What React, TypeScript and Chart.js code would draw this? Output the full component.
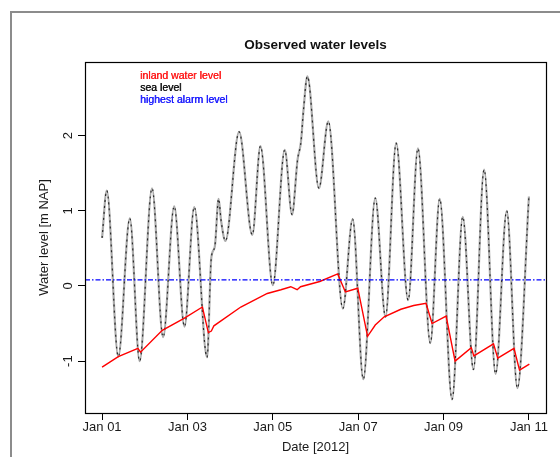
import React, { useEffect, useRef } from "react";
import { Chart, registerables } from "chart.js";
Chart.register(...registerables);

// Sea level (days after 2012-01-01 00:00, m NAP)
const seaDays = [0, 0.11, 0.38, 0.65, 0.88, 1.17, 1.43, 1.69, 1.93, 2.16, 2.46, 2.56, 2.64, 2.73, 2.79, 2.89, 3.21, 3.52, 3.71, 4.0, 4.28, 4.45, 4.58, 4.66, 4.72, 4.81, 5.08, 5.3, 5.64, 5.87, 6.12, 6.4, 6.64, 6.89, 7.17, 7.4, 7.69, 7.91, 8.2, 8.45, 8.7, 8.95, 9.22, 9.48, 9.73, 10.0];
const seaLevels = [0.64, 1.27, -0.94, 0.9, -1.0, 1.3, -0.68, 1.06, -0.54, 1.05, -0.95, 0.38, 0.52, 1.16, 0.86, 0.6, 2.05, 0.68, 1.86, 0.01, 1.81, 0.95, 1.68, 1.92, 2.35, 2.79, 1.3, 2.19, -0.3, 0.89, -1.24, 1.17, -0.41, 1.9, -0.19, 1.83, -0.76, 1.16, -1.51, 0.92, -1.11, 1.55, -1.17, 1.0, -1.36, 1.19];

// Inland water level
const inlandDays = [0, 0.38, 0.84, 0.9, 1.41, 1.92, 2.35, 2.49, 2.56, 2.62, 3.25, 3.87, 4.19, 4.42, 4.57, 4.65, 5.1, 5.52, 5.7, 5.99, 6.22, 6.4, 6.61, 7.0, 7.3, 7.59, 7.73, 8.06, 8.27, 8.65, 8.71, 9.17, 9.27, 9.65, 9.78, 10.01];
const inlandLevels = [-1.08, -0.94, -0.83, -0.88, -0.59, -0.43, -0.28, -0.62, -0.6, -0.53, -0.28, -0.1, -0.05, -0.01, -0.05, -0.01, 0.06, 0.16, -0.08, -0.03, -0.67, -0.52, -0.41, -0.31, -0.26, -0.23, -0.5, -0.4, -1.0, -0.82, -0.93, -0.77, -0.96, -0.83, -1.12, -1.04];

const alarmLevel = 0.08;

const xTickDays = [0, 2, 4, 6, 8, 10];
const xTickLabels = ["Jan 01", "Jan 03", "Jan 05", "Jan 07", "Jan 09", "Jan 11"];
const yTicks = [-1, 0, 1, 2];
const yTickLabels = ["-1", "0", "1", "2"];

const legendLabels = ["inland water level", "sea level", "highest alarm level"];
const legendColors = ["#ff1a1a", "#111111", "#1a1aff"];

const titleText = "Observed water levels";
const xTitle = "Date [2012]";
const yTitle = "Water level [m NAP]";

const FONT = "'Liberation Sans', Arial, sans-serif";

export default function App() {
  const ref = useRef<HTMLCanvasElement | null>(null);
  useEffect(() => {
    if (!ref.current) return;
    const seaPts = seaDays.map((d, i) => ({ x: d, y: seaLevels[i] }));
    const inlandPts = inlandDays.map((d, i) => ({ x: d, y: inlandLevels[i] }));
    const xMin = -0.4, xMax = 10.4;
    const alarmPts = [{ x: xMin, y: alarmLevel }, { x: xMax, y: alarmLevel }];

    const decor = {
      id: "decor",
      beforeDraw(chart: any) {
        const ctx = chart.ctx;
        ctx.save();
        ctx.fillStyle = "#ffffff";
        ctx.fillRect(0, 0, chart.width, chart.height);
        ctx.strokeStyle = "#8c8c8c";
        ctx.lineWidth = 2;
        ctx.strokeRect(11, 12, 700, 600);
        ctx.restore();
      },
      afterDraw(chart: any) {
        const ctx = chart.ctx;
        const a = chart.chartArea;
        const xs = chart.scales.x;
        const ys = chart.scales.y;
        ctx.save();
        ctx.strokeStyle = "#000";
        ctx.lineWidth = 1.2;
        ctx.strokeRect(Math.round(a.left) + 0.5, Math.round(a.top) + 0.5, Math.round(a.right - a.left), Math.round(a.bottom - a.top));
        const cx = (a.left + a.right) / 2;
        // title
        ctx.fillStyle = "#111";
        ctx.textAlign = "center";
        ctx.textBaseline = "middle";
        ctx.font = `bold 13.5px ${FONT}`;
        ctx.fillText(titleText, cx, 45);
        // x tick labels
        ctx.font = `13px ${FONT}`;
        ctx.fillStyle = "#1a1a1a";
        xTickDays.forEach((v, i) => {
          ctx.fillText(xTickLabels[i], xs.getPixelForValue(v), 427);
        });
        ctx.fillText(xTitle, cx, 447);
        // y tick labels rotated
        yTicks.forEach((v, i) => {
          ctx.save();
          ctx.translate(68, ys.getPixelForValue(v));
          ctx.rotate(-Math.PI / 2);
          ctx.fillText(yTickLabels[i], 0, 0);
          ctx.restore();
        });
        ctx.save();
        ctx.translate(44.5, (a.top + a.bottom) / 2);
        ctx.rotate(-Math.PI / 2);
        ctx.fillText(yTitle, 0, 0);
        ctx.restore();
        // legend
        ctx.font = `10.5px ${FONT}`;
        ctx.textAlign = "left";
        legendLabels.forEach((t, i) => {
          ctx.fillStyle = legendColors[i];
          ctx.fillText(t, 140, 76 + i * 12);
          ctx.fillText(t, 140.4, 76 + i * 12);
        });
        ctx.restore();
      },
    };

    const axisCommon = {
      type: "linear" as const,
      ticks: { display: false },
      grid: { drawOnChartArea: false, drawTicks: true, tickLength: 7, color: "#000", lineWidth: 1 },
      border: { display: true, color: "#000", width: 1 },
    };

    const chart = new Chart(ref.current, {
      type: "line",
      data: {
        datasets: [
          { label: "sea level", data: seaPts, borderColor: "#ababab", borderWidth: 2.2, pointRadius: 0, cubicInterpolationMode: "monotone", order: 4 },
          { label: "sea level dash", data: seaPts, borderColor: "#2a2a2a", borderWidth: 1.2, borderDash: [2, 4], pointRadius: 0, cubicInterpolationMode: "monotone", order: 3 },
          { label: "inland water level", data: inlandPts, borderColor: "#ff0000", borderWidth: 1.4, pointRadius: 0, tension: 0, order: 2 },
          { label: "highest alarm level", data: alarmPts, borderColor: "#0000ff", borderWidth: 1.3, borderDash: [5, 2, 1.5, 2], pointRadius: 0, tension: 0, order: 1 },
        ],
      },
      options: {
        animation: false,
        responsive: false,
        maintainAspectRatio: false,
        parsing: false as any,
        layout: { padding: { left: 0, top: 62, right: 14, bottom: 0 } },
        plugins: { legend: { display: false }, title: { display: false }, tooltip: { enabled: false } },
        scales: {
          x: {
            ...axisCommon,
            min: xMin,
            max: xMax,
            afterBuildTicks: (s: any) => { s.ticks = xTickDays.map((v) => ({ value: v })); },
            afterFit: (s: any) => { s.height = 44; },
          },
          y: {
            ...axisCommon,
            min: -1.69,
            max: 2.98,
            afterBuildTicks: (s: any) => { s.ticks = yTicks.map((v) => ({ value: v })); },
            afterFit: (s: any) => { s.width = 85; },
          },
        },
      } as any,
      plugins: [decor],
    });
    return () => chart.destroy();
  }, []);
  return (
    <div style={{ position: "absolute", left: 0, top: 0, width: 560, height: 457 }}>
      <canvas ref={ref} width={560} height={457} style={{ width: 560, height: 457 }} />
    </div>
  );
}
